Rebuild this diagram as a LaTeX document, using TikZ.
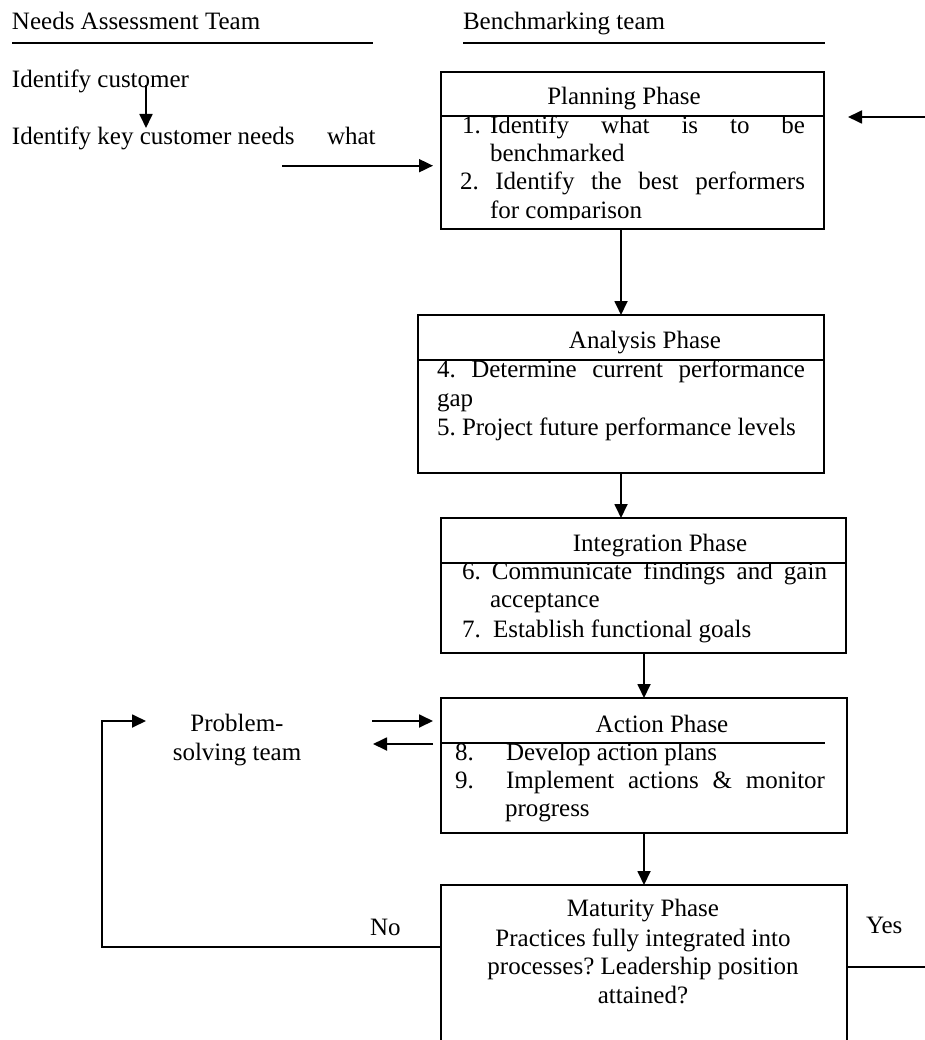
\documentclass[tikz,border=0pt]{standalone}
\usepackage{fontspec}
\setmainfont{Liberation Serif}
\usetikzlibrary{arrows.meta,calc}
\frenchspacing
\begin{document}
\begin{tikzpicture}[x=1pt,y=-1pt,
  ln/.style={line width=1.8pt},
  arr/.style={line width=1.8pt,-{Triangle[length=14pt,width=13pt]}},
  phasebox/.style={draw,line width=1.8pt,inner sep=0pt,outer sep=0pt,anchor=north west},
  txt/.style={inner sep=0pt,outer sep=0pt,font=\fontsize{25}{29}\selectfont\frenchspacing,anchor=base west},
  ctxt/.style={txt,anchor=base},
]
\useasboundingbox (0,0) rectangle (925,1040);
\clip (0,0) rectangle (925,1040);

% ---- column headings ----
\node[txt] (needs) at (12,29.5) {Needs Assessment Team};
\node[txt] (bench) at (463,29.5) {Benchmarking team};
\draw[ln] (12,42.7) -- (373,42.7);
\draw[ln] (463,42.7) -- (825,42.7);

% ---- needs assessment steps ----
\node[txt] (idc) at (12,87.3) {Identify customer};
\node[txt] (idn) at (12,144.3) {Identify key customer needs};
\node[txt] (what) at (327,144.3) {what};
\coordinate (idc-a) at (146,85);
\coordinate (idn-a) at (146,128);
\draw[arr] (idc-a) -- (idn-a);

% ---- phase boxes ----
\node[phasebox,minimum width=383pt,minimum height=157pt] (plan) at (441,72) {};
\node[phasebox,minimum width=406.6pt,minimum height=157.7pt] (ana) at (417.7,315) {};
\node[phasebox,minimum width=405.3pt,minimum height=134.7pt] (int) at (440.7,518) {};
\node[phasebox,minimum width=406pt,minimum height=135.3pt] (act) at (440.7,698) {};
\node[phasebox,minimum width=406pt,minimum height=175pt] (mat) at (440.7,885) {};

% title dividers
\draw[ln] ($(plan.north west)+(0,44)$) -- ($(plan.north east)+(0,44)$);
\draw[ln] ($(ana.north west)+(0,45)$) -- ($(ana.north east)+(0,45)$);
\draw[ln] ($(int.north west)+(0,44.7)$) -- ($(int.north east)+(0,44.7)$);
\draw[ln] ($(act.north west)+(0,45.3)$) -- ($(act.north west)+(384.3,45.3)$);

% ---- Planning Phase ----
\node[ctxt] (plan-t) at (624,105) {Planning Phase};
\begin{scope}
  \clip (441,117) rectangle (824,220);
  \node[txt] (p1n) at (462,133.3) {1.};
  \node[txt] (p1) at (490,133.3) {\makebox[315pt][s]{Identify what is to be}};
  \node[txt] (p1b) at (490,161.7) {benchmarked};
  \node[txt] (p2) at (460,190) {\makebox[345pt][s]{2. Identify the best performers}};
  \node[txt] (p2b) at (490,218.3) {for comparison};
\end{scope}

% ---- Analysis Phase ----
\node[ctxt] (ana-t) at (645,348.3) {Analysis Phase};
\begin{scope}
  \clip (418,361) rectangle (824,472);
  \node[txt] (a4) at (437,377.3) {\makebox[368pt][s]{4. Determine current performance}};
  \node[txt] (a4b) at (437,406) {gap};
  \node[txt] (a5) at (437,435) {5. Project future performance levels};
\end{scope}

% ---- Integration Phase ----
\node[ctxt] (int-t) at (660,551.7) {Integration Phase};
\begin{scope}
  \clip (441,564) rectangle (846,652);
  \node[txt] (i6) at (462,579.3) {\makebox[365pt][s]{6. Communicate findings and gain}};
  \node[txt] (i6b) at (490,607.3) {acceptance};
  \node[txt] (i7n) at (462,637) {7.};
  \node[txt] (i7) at (493,637) {Establish functional goals};
\end{scope}

% ---- Action Phase ----
\node[ctxt] (act-t) at (662,732.7) {Action Phase};
\begin{scope}
  \clip (441,744.5) rectangle (846,833);
  \node[txt] (c8n) at (455,760) {8.};
  \node[txt] (c8) at (506,760) {Develop action plans};
  \node[txt] (c9n) at (455,788) {9.};
  \node[txt] (c9) at (506,788) {\makebox[319pt][s]{Implement actions \& monitor}};
  \node[txt] (c9b) at (505,816.7) {progress};
\end{scope}

% ---- Maturity Phase ----
\node[ctxt] (mat-t) at (643,916.7) {Maturity Phase};
\node[ctxt] (m1) at (643,946.7) {Practices fully integrated into};
\node[ctxt] (m2) at (643,974.5) {processes? Leadership position};
\node[ctxt] (m3) at (643,1003) {attained?};

% ---- Problem-solving team ----
\node[ctxt] (ps1) at (237,731.7) {Problem-};
\node[ctxt] (ps2) at (237,760) {solving team};

% ---- decision labels ----
\node[txt] (no) at (370,935) {No};
\node[txt] (yes) at (866,933) {Yes};

% ---- flow connectors ----
\coordinate (colA) at (621,0);
\coordinate (colB) at (644,0);
\draw[arr] (plan.south -| colA) -- (ana.north -| colA);
\draw[arr] (ana.south -| colA) -- (int.north -| colA);
\draw[arr] (int.south -| colB) -- (act.north -| colB);
\draw[arr] (act.south -| colB) -- (mat.north -| colB);

% needs into planning
\coordinate (what-a) at (282,165.7);
\draw[arr] (what-a) -- ($(plan.west |- what-a)+(-8,0)$);
% return from the right edge
\coordinate (yes-in) at (925,117);
\draw[arr] (yes-in) -- ($(plan.east |- yes-in)+(24,0)$);

% problem-solving team exchange
\coordinate (ps-in) at (372,721);
\coordinate (ps-out) at (373,744);
\draw[arr] (ps-in) -- ($(act.west |- ps-in)+(-7.7,0)$);
\draw[arr] ($(act.west |- ps-out)+(-7.7,0)$) -- (ps-out);

% "No" loop back to problem-solving team
\coordinate (no-c) at (101.7,946.7);
\coordinate (ps-loop) at (146,721);
\draw[arr] (mat.west |- no-c) -- (no-c) |- (ps-loop);

% "Yes" exit
\coordinate (yes-out) at (925,966.7);
\draw[ln] (mat.east |- yes-out) -- (yes-out);
\end{tikzpicture}
\end{document}
